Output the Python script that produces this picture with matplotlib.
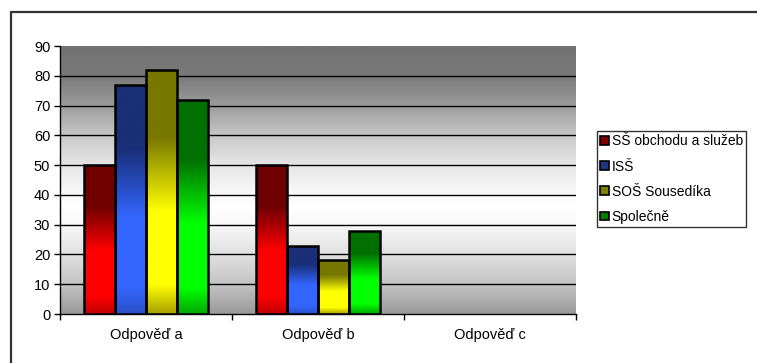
import numpy as np
import matplotlib.pyplot as plt
from matplotlib.colors import LinearSegmentedColormap
from matplotlib.patches import Patch
from matplotlib.lines import Line2D

plt.rcParams['font.family'] = ['Liberation Sans', 'DejaVu Sans']

categories = ['Odpověď a', 'Odpověď b', 'Odpověď c']
series = ['SŠ obchodu a služeb', 'ISŠ', 'SOŠ Sousedíka', 'Společně']
ss_obchodu = [50, 50, np.nan]
iss = [77, 23, np.nan]
sos_sousedika = [82, 18, np.nan]
spolecne = [72, 28, np.nan]
values = [ss_obchodu, iss, sos_sousedika, spolecne]

# (bottom, bright, dark) shades for each series
shades = [
    ('#c00000', '#ff0000', '#700000'),
    ('#2a50c8', '#3366ff', '#1a2f78'),
    ('#a8a000', '#ffff00', '#787800'),
    ('#00a800', '#00ff00', '#007000'),
]
legend_colors = ['#800000', '#1f3580', '#808000', '#008000']

fig = plt.figure(figsize=(7.57, 3.63), dpi=100)
ax = fig.add_axes([60 / 757, 1 - 314 / 363, 516 / 757, 268 / 363])

ymax = 90
ax.set_xlim(-0.5, 2.5)
ax.set_ylim(0, ymax)

# plot area fill: grey at top, white around 35, grey again at the bottom
bg = LinearSegmentedColormap.from_list('bg', [
    (0.0, '#9a9a9a'), (10 / 90, '#c4c4c4'), (20 / 90, '#e0e0e0'),
    (30 / 90, '#f8f8f8'), (36 / 90, '#ffffff'), (42 / 90, '#f6f6f6'),
    (50 / 90, '#e6e6e6'), (60 / 90, '#c8c8c8'), (70 / 90, '#9c9c9c'),
    (80 / 90, '#7a7a7a'), (1.0, '#727272')])
ax.imshow(np.linspace(0, 1, 256).reshape(-1, 1), cmap=bg, aspect='auto',
          origin='lower', extent=(-0.5, 2.5, 0, ymax), zorder=0)

width = 0.18
x = np.arange(len(categories))
for i, (vals, (low, bright, dark)) in enumerate(zip(values, shades)):
    offset = (i - 1.5) * width
    bars = ax.bar(x + offset, vals, width, facecolor='none',
                  edgecolor='black', linewidth=1.8, zorder=3)
    cmap = LinearSegmentedColormap.from_list('s%d' % i, [
        (0.0, low), (0.12, bright), (0.42, bright), (0.72, dark), (1.0, dark)])
    for b in bars:
        h = b.get_height()
        if not np.isfinite(h) or h <= 0:
            continue
        x0 = b.get_x()
        im = ax.imshow(np.linspace(0, 1, 256).reshape(-1, 1), cmap=cmap,
                       aspect='auto', origin='lower',
                       extent=(x0, x0 + b.get_width(), 0, h), zorder=2)
        im.set_clip_path(b)

ax.set_xlim(-0.5, 2.5)
ax.set_ylim(0, ymax)

# horizontal grid lines
ax.set_yticks(range(0, 91, 10))
for v in range(10, 90, 10):
    ax.axhline(v, color='black', linewidth=1.0, zorder=1)

ax.set_xticks([-0.5, 0.5, 1.5, 2.5])
ax.set_xticklabels([])
ax.set_xticks(x, minor=True)
ax.set_xticklabels(categories, minor=True)
ax.tick_params(axis='x', which='major', length=4, width=1, direction='out')
ax.tick_params(axis='x', which='minor', length=0, pad=10, labelsize=10.5)
ax.tick_params(axis='y', length=4, width=1, direction='out', pad=3, labelsize=10.5)

for side in ['top', 'right']:
    ax.spines[side].set_visible(False)
for side in ['left', 'bottom']:
    ax.spines[side].set_linewidth(1.0)
    ax.spines[side].set_zorder(4)

handles = [Patch(facecolor=c, edgecolor='black', linewidth=1.2) for c in legend_colors]
leg = fig.legend(handles, series, loc='upper left',
                 bbox_to_anchor=(597 / 757, 1 - 131 / 363),
                 frameon=True, fancybox=False, fontsize=10,
                 handlelength=0.6, handleheight=0.6, handletextpad=0.2,
                 labelspacing=0.8, borderpad=0.25, borderaxespad=0)
leg.get_frame().set_edgecolor('black')
leg.get_frame().set_linewidth(1.0)

# chart frame
fig.add_artist(Line2D([11 / 757, 11 / 757, 1.05], [-0.05, 1 - 12 / 363, 1 - 12 / 363],
                      color='#333333', linewidth=1.6, transform=fig.transFigure))

fig.savefig('out.png', dpi=100, facecolor='white')
